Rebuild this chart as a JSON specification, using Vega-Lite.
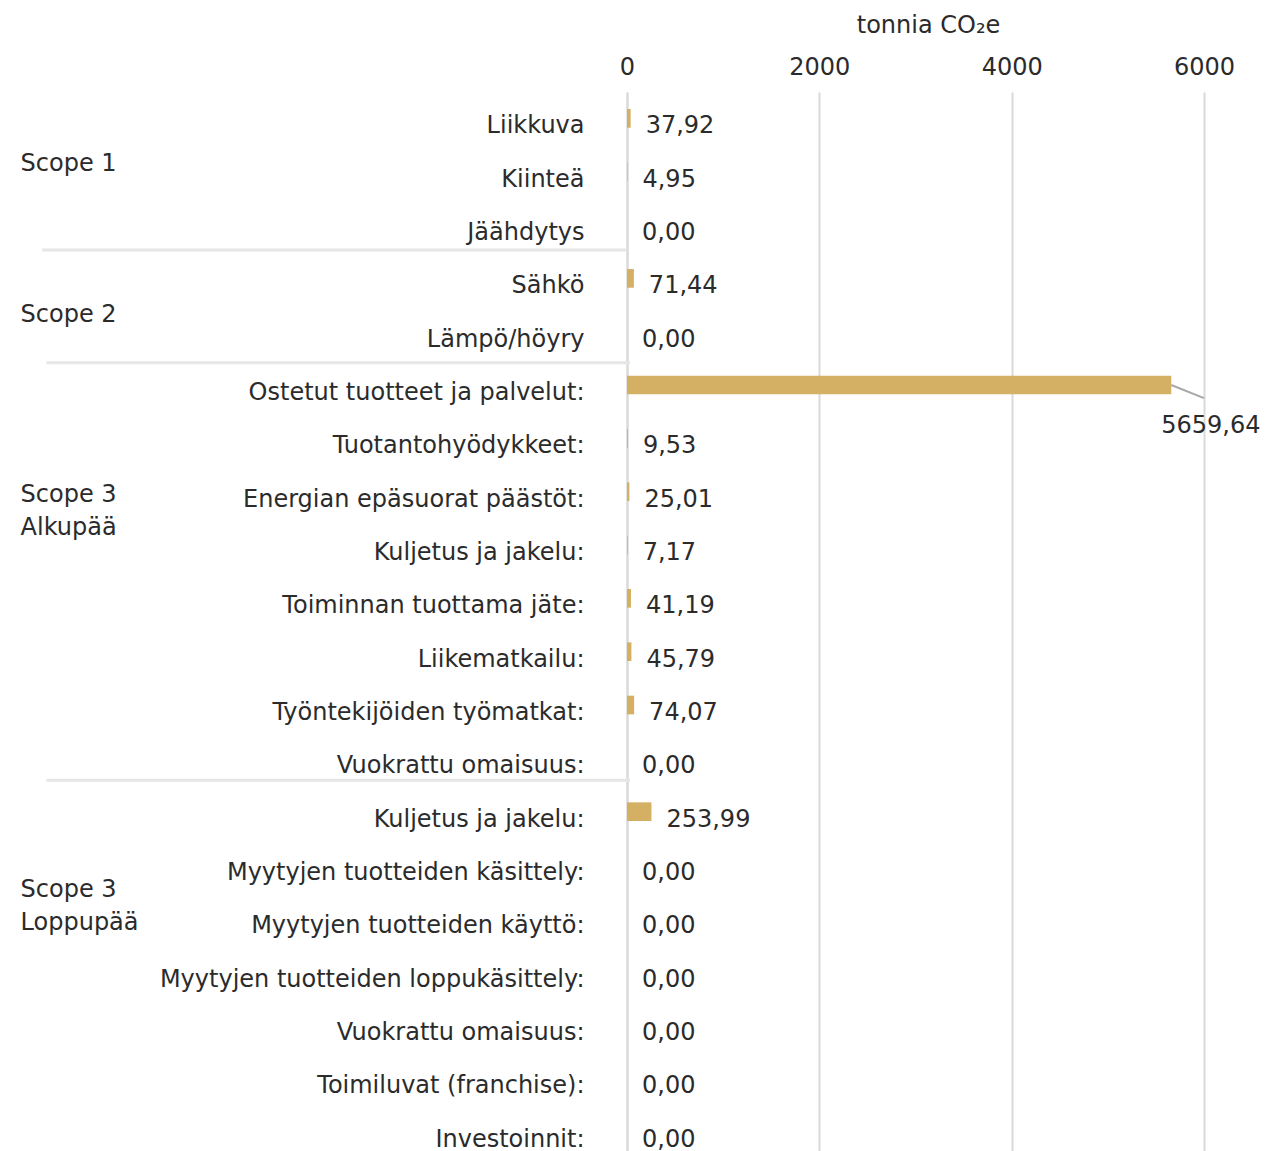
{
  "$schema": "https://vega.github.io/schema/vega-lite/v6.json",
  "width": 577,
  "height": 1061,
  "padding": {"left": 20, "top": 13, "right": 9, "bottom": 0},
  "autosize": {"type": "pad"},
  "config": {
    "font": "DejaVu Sans",
    "view": {"stroke": null},
    "locale": {"number": {"decimal": ",", "thousands": "\u00a0", "grouping": [3], "currency": ["", " €"]}},
    "text": {"font": "DejaVu Sans", "fontSize": 24, "color": "#2b2b2b"}
  },
  "datasets": {
    "paastot": [
      {"rivi": "01|Liikkuva", "arvo": 37.92},
      {"rivi": "02|Kiinteä", "arvo": 4.95},
      {"rivi": "03|Jäähdytys", "arvo": 0},
      {"rivi": "04|Sähkö", "arvo": 71.44},
      {"rivi": "05|Lämpö/höyry", "arvo": 0},
      {"rivi": "06|Ostetut tuotteet ja palvelut:", "arvo": 5659.64},
      {"rivi": "07|Tuotantohyödykkeet:", "arvo": 9.53},
      {"rivi": "08|Energian epäsuorat päästöt:", "arvo": 25.01},
      {"rivi": "09|Kuljetus ja jakelu:", "arvo": 7.17},
      {"rivi": "10|Toiminnan tuottama jäte:", "arvo": 41.19},
      {"rivi": "11|Liikematkailu:", "arvo": 45.79},
      {"rivi": "12|Työntekijöiden työmatkat:", "arvo": 74.07},
      {"rivi": "13|Vuokrattu omaisuus:", "arvo": 0},
      {"rivi": "14|Kuljetus ja jakelu:", "arvo": 253.99},
      {"rivi": "15|Myytyjen tuotteiden käsittely:", "arvo": 0},
      {"rivi": "16|Myytyjen tuotteiden käyttö:", "arvo": 0},
      {"rivi": "17|Myytyjen tuotteiden loppukäsittely:", "arvo": 0},
      {"rivi": "18|Vuokrattu omaisuus:", "arvo": 0},
      {"rivi": "19|Toimiluvat (franchise):", "arvo": 0},
      {"rivi": "20|Investoinnit:", "arvo": 0}
    ],
    "ryhmat": [
      {"ryhma": "Scope 1", "rivi": "02|Kiinteä"},
      {"ryhma": "Scope 2", "rivi": "05|Lämpö/höyry"},
      {"ryhma": "Scope 3\nAlkupää", "rivi": "08|Energian epäsuorat päästöt:"},
      {"ryhma": "Scope 3\nLoppupää", "rivi": "15|Myytyjen tuotteiden käsittely:"}
    ],
    "erottimet": [
      {"rivi": "03|Jäähdytys"},
      {"rivi": "05|Lämpö/höyry"},
      {"rivi": "13|Vuokrattu omaisuus:"}
    ]
  },
  "layer": [
    {
      "data": {"name": "paastot"},
      "mark": {"type": "bar", "color": "#D3B063", "yOffset": -8},
      "encoding": {
        "x": {
          "field": "arvo", "type": "quantitative", "title": "tonnia CO₂e",
          "scale": {"domain": [0, 6000], "nice": false},
          "axis": {
            "orient": "top", "values": [0, 2000, 4000, 6000], "format": "d", "labelFlush": false,
            "titleFontSize": 24, "titleFontWeight": "normal", "titleColor": "#2b2b2b", "titleFont": "DejaVu Sans",
            "titleX": 301, "titleAlign": "center", "titleAnchor": "start",
            "titlePadding": 18, "labelFontSize": 24, "labelColor": "#2b2b2b", "labelFont": "DejaVu Sans",
            "labelPadding": 13, "domain": false, "ticks": false, "tickSize": 0,
            "grid": true, "gridColor": "#dadada", "gridWidth": 2
          }
        },
        "y": {
          "field": "rivi", "type": "nominal", "sort": "ascending", "title": null,
          "scale": {"paddingInner": 0.65, "paddingOuter": 0.2725, "align": 0.862},
          "axis": {
            "labelExpr": "split(datum.value, '|')[1]", "labelFontSize": 24, "labelColor": "#2b2b2b",
            "labelFont": "DejaVu Sans", "ticks": false, "tickSize": 0, "labelPadding": 43, "labelLimit": 700,
            "domainColor": "#dadada", "domainWidth": 2
          }
        }
      }
    },
    {
      "data": {"name": "paastot"},
      "transform": [{"filter": "datum.arvo < 5000"}],
      "mark": {"type": "text", "align": "left", "baseline": "middle", "dx": 15},
      "encoding": {
        "x": {"field": "arvo", "type": "quantitative", "title": "tonnia CO₂e"},
        "y": {"field": "rivi", "type": "nominal", "sort": "ascending", "title": null},
        "text": {"field": "arvo", "type": "quantitative", "format": ".2f"}
      }
    },
    {
      "data": {"name": "paastot"},
      "transform": [{"filter": "datum.arvo >= 5000"}],
      "mark": {"type": "rule", "color": "#a8a8a8", "strokeWidth": 2},
      "encoding": {
        "x": {"field": "arvo", "type": "quantitative", "title": "tonnia CO₂e"},
        "x2": {"datum": 6000},
        "y": {"field": "rivi", "type": "nominal", "sort": "ascending", "title": null, "bandPosition": 0.07},
        "y2": {"field": "rivi", "bandPosition": 0.77}
      }
    },
    {
      "data": {"name": "paastot"},
      "transform": [{"filter": "datum.arvo >= 5000"}],
      "mark": {"type": "text", "align": "left", "baseline": "middle", "dx": -10, "dy": 33},
      "encoding": {
        "x": {"field": "arvo", "type": "quantitative", "title": "tonnia CO₂e"},
        "y": {"field": "rivi", "type": "nominal", "sort": "ascending", "title": null},
        "text": {"field": "arvo", "type": "quantitative", "format": ".2f"}
      }
    },
    {
      "data": {"name": "erottimet"},
      "transform": [{"filter": "datum.rivi == '03|Jäähdytys'"}],
      "mark": {"type": "rule", "color": "#e6e6e6", "strokeWidth": 3, "yOffset": 17},
      "encoding": {
        "x": {"datum": -6080, "type": "quantitative"},
        "x2": {"datum": 0},
        "y": {"field": "rivi", "type": "nominal", "sort": "ascending", "title": null}
      }
    },
    {
      "data": {"name": "erottimet"},
      "transform": [{"filter": "datum.rivi == '05|Lämpö/höyry'"}],
      "mark": {"type": "rule", "color": "#e6e6e6", "strokeWidth": 3, "yOffset": 23},
      "encoding": {
        "x": {"datum": -6036, "type": "quantitative"},
        "x2": {"datum": 31},
        "y": {"field": "rivi", "type": "nominal", "sort": "ascending", "title": null}
      }
    },
    {
      "data": {"name": "erottimet"},
      "transform": [{"filter": "datum.rivi == '13|Vuokrattu omaisuus:'"}],
      "mark": {"type": "rule", "color": "#e6e6e6", "strokeWidth": 3, "yOffset": 14},
      "encoding": {
        "x": {"datum": -6036, "type": "quantitative"},
        "x2": {"datum": 31},
        "y": {"field": "rivi", "type": "nominal", "sort": "ascending", "title": null}
      }
    },
    {
      "data": {"name": "ryhmat"},
      "transform": [{"filter": "datum.ryhma == 'Scope 1'"}],
      "mark": {"type": "text", "align": "left", "baseline": "middle", "dy": -16},
      "encoding": {
        "x": {"datum": -6306, "type": "quantitative"},
        "y": {"field": "rivi", "type": "nominal", "sort": "ascending", "title": null},
        "text": {"field": "ryhma"}
      }
    },
    {
      "data": {"name": "ryhmat"},
      "transform": [{"filter": "datum.ryhma == 'Scope 2'"}],
      "mark": {"type": "text", "align": "left", "baseline": "middle", "dy": -25},
      "encoding": {
        "x": {"datum": -6306, "type": "quantitative"},
        "y": {"field": "rivi", "type": "nominal", "sort": "ascending", "title": null},
        "text": {"field": "ryhma"}
      }
    },
    {
      "data": {"name": "ryhmat"},
      "transform": [{"filter": "indexof(datum.ryhma, 'Alkup') >= 0"}],
      "mark": {"type": "text", "align": "left", "baseline": "middle", "dy": -5, "lineBreak": "\n", "lineHeight": 33},
      "encoding": {
        "x": {"datum": -6306, "type": "quantitative"},
        "y": {"field": "rivi", "type": "nominal", "sort": "ascending", "title": null},
        "text": {"field": "ryhma"}
      }
    },
    {
      "data": {"name": "ryhmat"},
      "transform": [{"filter": "indexof(datum.ryhma, 'Loppup') >= 0"}],
      "mark": {"type": "text", "align": "left", "baseline": "middle", "dy": 17, "lineBreak": "\n", "lineHeight": 33},
      "encoding": {
        "x": {"datum": -6306, "type": "quantitative"},
        "y": {"field": "rivi", "type": "nominal", "sort": "ascending", "title": null},
        "text": {"field": "ryhma"}
      }
    }
  ]
}
